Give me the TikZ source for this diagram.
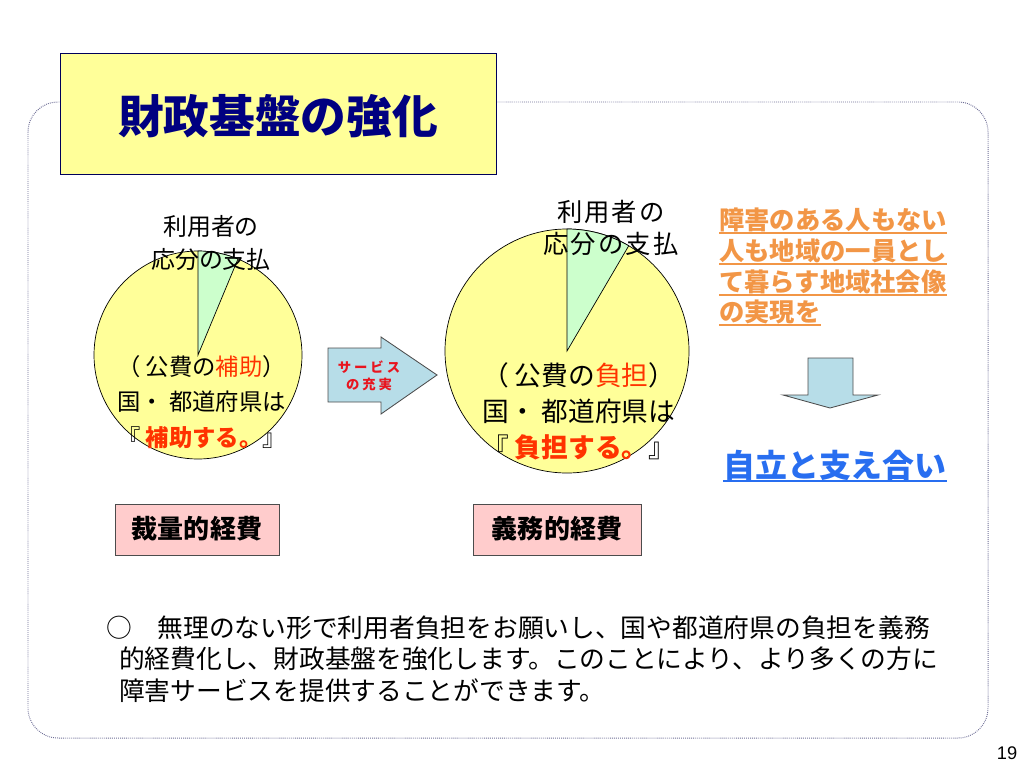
\documentclass[tikz,border=0pt]{standalone}
\usepackage{fontspec}
\setmainfont{Noto Sans CJK JP}
\newfontfamily\numfont{Liberation Sans}
\definecolor{titlenavy}{RGB}{0,0,128}
\definecolor{titlefill}{RGB}{255,255,153}
\definecolor{pieyellow}{RGB}{255,255,153}
\definecolor{slicegreen}{RGB}{204,255,204}
\definecolor{hotred}{RGB}{255,51,0}
\definecolor{arrowred}{RGB}{232,20,30}
\definecolor{arrowblue}{RGB}{183,221,232}
\definecolor{goalorange}{RGB}{242,150,70}
\definecolor{goalblue}{RGB}{40,110,240}
\definecolor{boxpink}{RGB}{255,204,204}
\definecolor{framecol}{RGB}{110,110,150}
\tikzset{
  piefill/.style={fill=pieyellow, draw=black, line width=0.5pt},
  slicefill/.style={fill=slicegreen, draw=black, line width=0.5pt},
  pietext/.style={font=\fontsize{19}{25.6}\selectfont, align=left, anchor=west, inner sep=0pt},
  paytext/.style={font=\fontsize{17}{24}\selectfont, align=center, inner sep=0pt},
  labelbox/.style={draw=black!70, fill=boxpink, line width=0.6pt},
  arrowfill/.style={fill=arrowblue, draw=black!70, line width=0.6pt},
  goalline/.style={goalorange, anchor=base west, inner sep=0pt, font=\fontsize{18}{21.8}\selectfont\bfseries},
}
\begin{document}
\begin{tikzpicture}[x=0.025cm,y=-0.025cm]
\useasboundingbox (0,0) rectangle (1024,768);
\draw[framecol, line width=0.7pt, dash pattern=on 0.6pt off 0.8pt, rounded corners=0.75cm] (28,102) rectangle (988,738);
\draw[fill=titlefill, draw=titlenavy!70!black, line width=0.6pt] (60,53) rectangle (496,174);
\node[titlenavy, font=\fontsize{32.5}{36}\selectfont\bfseries] at (278,116) (title) {財政基盤の強化};
  \draw[piefill] (198,355) circle (104);
  \draw[slicefill] (198,355) -- (198,251) arc (-90:-67.4:104) -- cycle;
  \draw[piefill] (567,351) circle (122);
  \draw[slicefill] (567,351) -- (567,229) arc (-90:-59.6:122) -- cycle;
\node[paytext] at (211,243) (payleft) {利用者の\\応分の支払};
\node[paytext, font=\fontsize{18}{22.8}\selectfont\addfontfeature{LetterSpace=8}] at (611,228) (payright) {利用者の\\応分の支払};
\node[pietext, font=\fontsize{16.6}{25.2}\selectfont] at (117,402) (publeft) {（ 公費の\textcolor{hotred}{補助}）\\国・ 都道府県は\\『 \textcolor{hotred}{\bfseries 補助する。}』};
\node[pietext] at (482,411) (pubright) {（ 公費の\textcolor{hotred}{負担}）\\国・ 都道府県は\\『 \textcolor{hotred}{\bfseries 負担する。}』};
  \draw[arrowfill] (328,348) -- (381,348) -- (381,337) -- (437,375) -- (381,414) -- (381,402) -- (328,402) -- cycle;
\node[arrowred, align=center, font=\fontsize{9.5}{12}\selectfont\bfseries\addfontfeature{LetterSpace=22}] at (369,376) (service) {サービス\\の充実};
\node[goalline] at (719,229) (goal1) {障害のある人もない};
\node[goalline] at (719,260) (goal2) {人も地域の一員とし};
\node[goalline] at (719,291) (goal3) {て暮らす地域社会像};
\node[goalline] at (719,321) (goal4) {の実現を};
  \foreach \g in {goal1,goal2,goal3,goal4}
    \draw[goalorange, line width=1.5pt] ([yshift=-3pt]\g.base west) -- ([yshift=-3pt]\g.base east);
  \draw[arrowfill] (808,358) -- (853,358) -- (853,395) -- (878,395) -- (830,408) -- (783,395) -- (808,395) -- cycle;
\node[goalblue, anchor=base, inner sep=0pt, font=\fontsize{22.7}{26}\selectfont\bfseries] at (835,477) (support) {自立と支え合い};
  \draw[goalblue, line width=1.5pt] ([yshift=-3pt]support.base west) -- ([yshift=-3pt]support.base east);
  \draw[labelbox] (115,504) rectangle (279,555);
  \draw[labelbox] (473,504) rectangle (641,555);
\node[font=\fontsize{18.5}{22}\selectfont\bfseries] at (197,529) (discretion) {裁量的経費};
\node[font=\fontsize{18.5}{22}\selectfont\bfseries] at (557,529) (mandatory) {義務的経費};
\node[align=left, anchor=west, inner sep=0pt, font=\fontsize{18.3}{22.4}\selectfont] at (106,659) (summary) {○　無理のない形で利用者負担をお願いし、国や都道府県の負担を義務\\\hspace{0.5em}的経費化し、財政基盤を強化します。このことにより、より多くの方に\\\hspace{0.5em}障害サービスを提供することができます。};
\node[font=\numfont\fontsize{13}{15}\selectfont] at (1007,753) (page) {19};
\end{tikzpicture}
\end{document}
